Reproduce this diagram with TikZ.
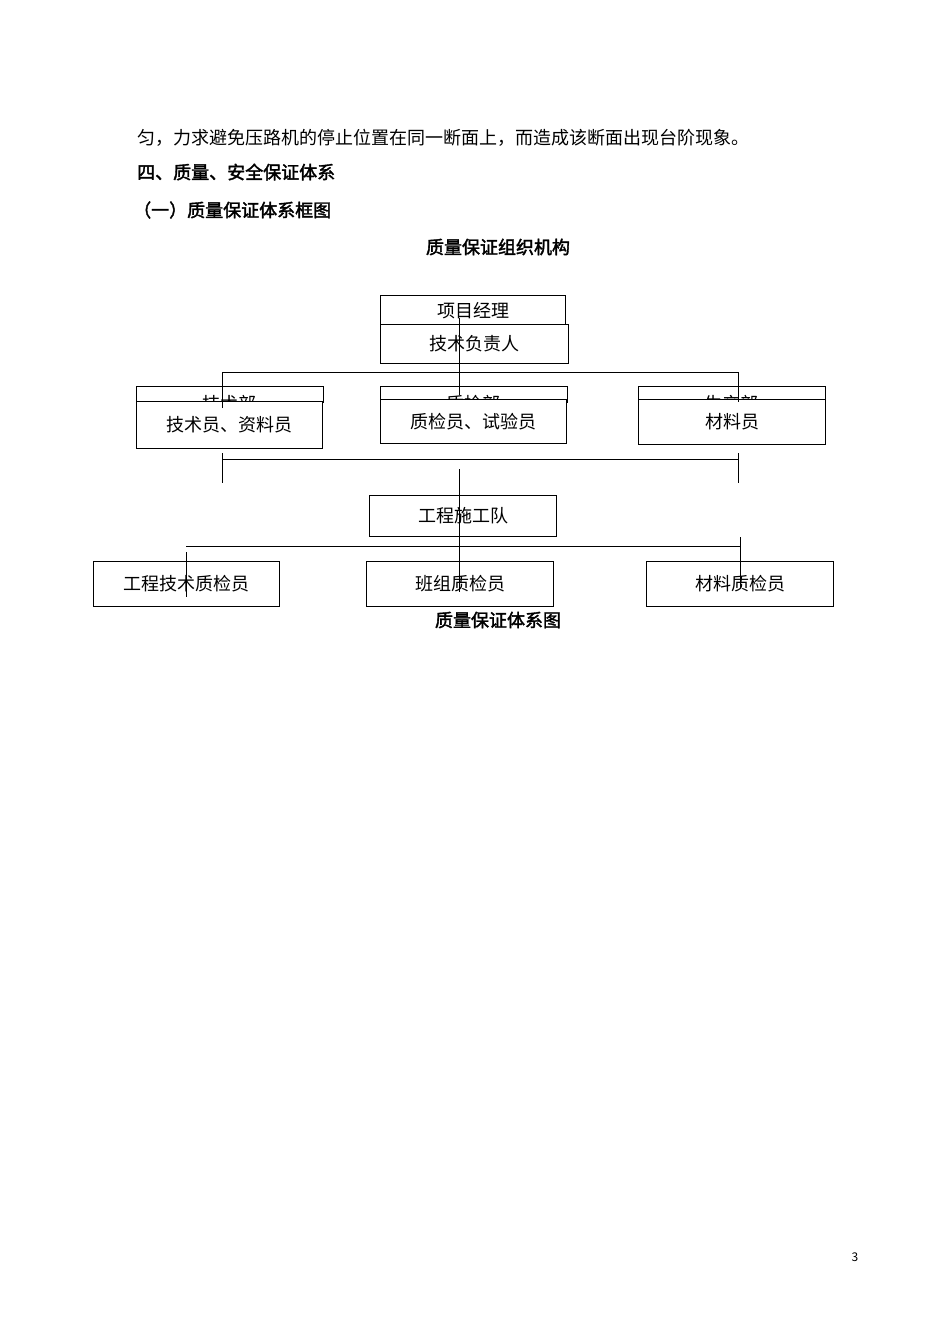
\documentclass[tikz,border=0pt]{standalone}
\usepackage{fontspec}
\setmainfont{Noto Sans CJK SC}[AutoFakeBold=2]
\begin{document}
\begin{tikzpicture}[x=1pt,y=-1pt,
  box/.style={draw,line width=1pt,fill=white,minimum height=#1,inner sep=0pt,anchor=north west,font=\fontsize{18}{18}\selectfont},
  ln/.style={line width=1pt},
  txt/.style={font=\fontsize{18}{18}\selectfont,anchor=west,inner sep=0pt},
  btxt/.style={font=\fontsize{18}{18}\selectfont\bfseries,inner sep=0pt}]
\useasboundingbox (0,0) rectangle (950,1344);
\node[txt] (l1) at (137,138) {匀，力求避免压路机的停止位置在同一断面上，而造成该断面出现台阶现象。};
\node[btxt,anchor=west] (l2) at (137,172) {四、质量、安全保证体系};
\node[btxt,anchor=west] (l3) at (133,210) {（一）质量保证体系框图};
\node[btxt] (t1) at (498,247) {质量保证组织机构};
% top boxes
\node[box=30pt,minimum width=185pt] (pm) at (380,295) {};
\node[txt,anchor=center] (pmt) at (473,311) {项目经理};
\node[box=39pt,minimum width=188pt] (tl) at (380,324) {技术负责人};
% dept boxes (partially covered)
\foreach \x/\n/\t in {136/a/技术部,380/b/质检部,638/c/生产部}{
  \node[box=16pt,minimum width=187pt] (d\n) at (\x,386) {};
  \node[txt,anchor=center] (dt\n) at (\x+93,404) {\t};
}
\node[box=47pt,minimum width=186pt] (sa) at (136,401) {技术员、资料员};
\node[box=44pt,minimum width=186pt] (sb) at (380,399) {质检员、试验员};
\node[box=45pt,minimum width=187pt] (sc) at (638,399) {材料员};
\node[box=41pt,minimum width=187pt] (team) at (369,495) {工程施工队};
\node[box=45pt,minimum width=186pt] (q1) at (93,561) {工程技术质检员};
\node[box=45pt,minimum width=187pt] (q2) at (366,561) {班组质检员};
\node[box=45pt,minimum width=187pt] (q3) at (646,561) {材料质检员};
\node[btxt] (cap) at (498,620) {质量保证体系图};
\node[font=\fontsize{12}{12}\selectfont,inner sep=0pt] (pg) at (855,1257) {3};
% connectors
\coordinate (h1l) at (222,372); \coordinate (h1r) at (738,372);
\draw[ln] (222,408) -- (h1l) -- (h1r) -- (738,402);
\draw[ln] (459,318) -- (459,395);
\coordinate (h2l) at (222,459); \coordinate (h2r) at (738,459);
\draw[ln] (h2l) -- (h2r);
\draw[ln] (222,453) -- (222,483);
\draw[ln] (738,453) -- (738,483);
\draw[ln] (459,469) -- (459,592);
\coordinate (h3l) at (186,546); \coordinate (h3r) at (740,546);
\draw[ln] (h3l) -- (h3r);
\draw[ln] (186,552) -- (186,597);
\draw[ln] (740,537) -- (740,588);
\end{tikzpicture}
\end{document}
